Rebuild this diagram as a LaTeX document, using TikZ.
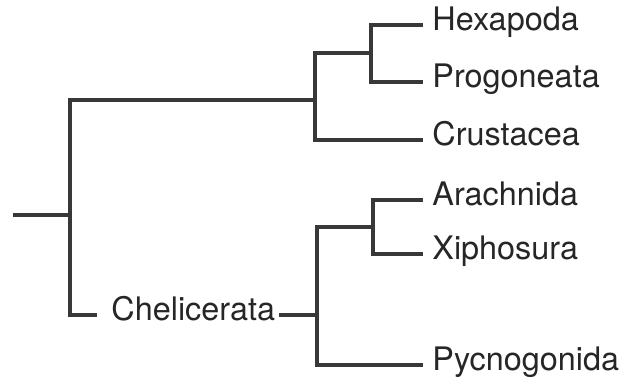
\documentclass[tikz,border=0pt]{standalone}
\usepackage{fontspec}
\setmainfont{TeX Gyre Heros}

\begin{document}
\begin{tikzpicture}[x=0.5pt,y=-0.5pt,
    branch/.style={draw=black!78,line width=1.6pt},
    taxon/.style={anchor=mid west,inner xsep=4.5pt,inner ysep=0pt,text=black!85,
      font=\fontsize{16.2}{19}\selectfont}]
  \useasboundingbox (0,0) rectangle (633,382);

  \foreach \n/\y/\t in {hex/25/Hexapoda,pro/82/Progoneata,cru/140/Crustacea,
      ara/200/Arachnida,xip/254/Xiphosura,pyc/365/Pycnogonida} {
    \node[taxon] (\n) at (423,\y) {\t};
  }
  \node[taxon,inner xsep=0pt] (chel) at (111,315) {Chelicerata};

  \coordinate (stem) at (13,215);
  \coordinate (root) at (70,215);
  \coordinate (mand) at (315,100);
  \coordinate (insm) at (371,53);
  \coordinate (chj) at (317,315);
  \coordinate (arx) at (373,227);

  \draw[branch] (stem) -- (root);
  \draw[branch,shorten >=7pt] (mand) -| (root) |- (chel.mid west);
  \draw[branch] (insm) -| (mand) |- (cru.mid west);
  \draw[branch] (hex.mid west) -| (insm) |- (pro.mid west);
  \draw[branch,shorten <=2pt] (chel.mid east) -- (chj);
  \draw[branch] (ara.mid west) -| (arx) |- (xip.mid west);
  \draw[branch] (arx) -| (chj) |- (pyc.mid west);
\end{tikzpicture}
\end{document}
